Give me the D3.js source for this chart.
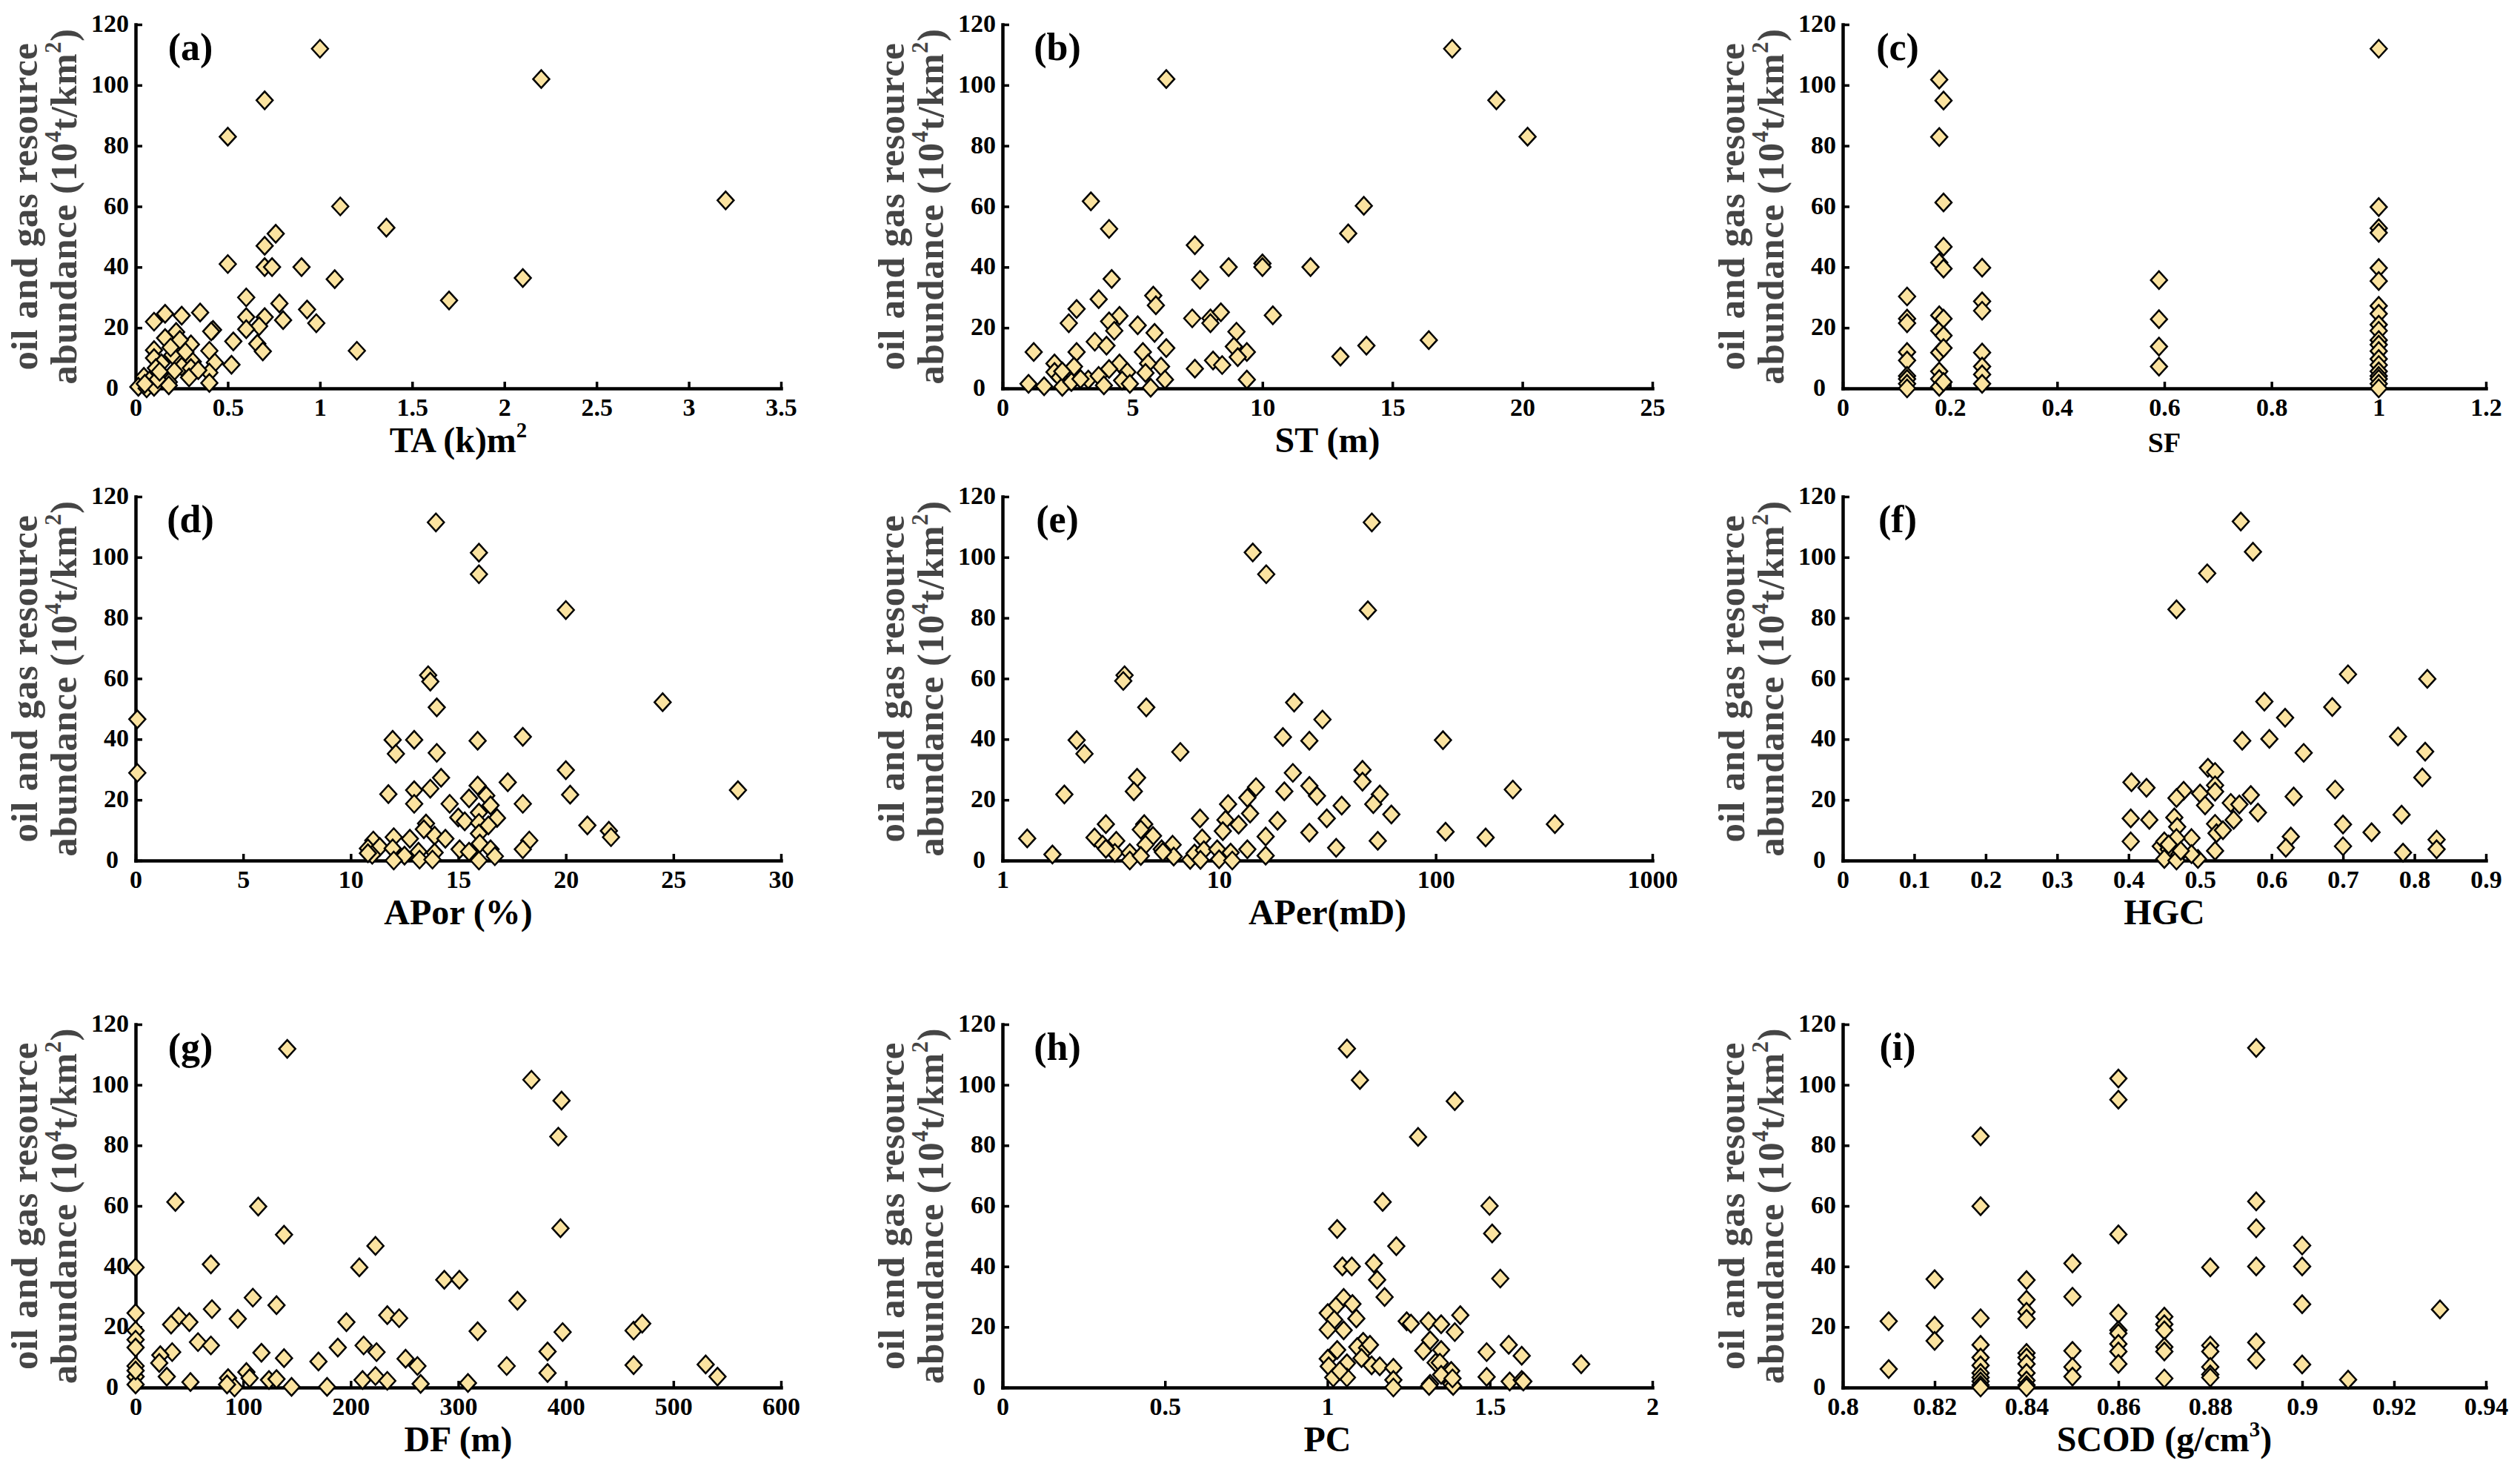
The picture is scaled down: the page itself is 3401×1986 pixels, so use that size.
<!DOCTYPE html>
<html>
<head>
<meta charset="utf-8">
<script src="https://cdn.jsdelivr.net/npm/d3@7"></script>
<style>
  body { margin: 0; background: #fff; }
  svg text { font-family: "Liberation Serif", "Times New Roman", serif; font-weight: bold; }
</style>
</head>
<body>
<svg id="chart" width="3401" height="1986"></svg>
<script>
// ---- data: [x, abundance] per panel ----
var yTicks = [0, 20, 40, 60, 80, 100, 120];

var ticksA = [0, 0.5, 1, 1.5, 2, 2.5, 3, 3.5];
var ticksB = [0, 5, 10, 15, 20, 25];
var ticksC = [0, 0.2, 0.4, 0.6, 0.8, 1, 1.2];
var ticksD = [0, 5, 10, 15, 20, 25, 30];
var ticksE = [1, 10, 100, 1000];
var ticksF = [0, 0.1, 0.2, 0.3, 0.4, 0.5, 0.6, 0.7, 0.8, 0.9];
var ticksG = [0, 100, 200, 300, 400, 500, 600];
var ticksH = [0, 0.5, 1, 1.5, 2];
var ticksI = [0.8, 0.82, 0.84, 0.86, 0.88, 0.9, 0.92, 0.94];

var panelA = [[1.0,112],[2.2,102],[0.7,95],[0.5,83],[3.2,62],[1.11,60],[1.36,53],[0.76,51],[0.7,47],[0.5,41],
  [0.7,40],[0.74,40],[0.9,40],[1.08,36],[2.1,36.4],[1.7,29],[0.6,30],[0.93,26],[0.78,28],[0.98,21.5],
  [0.8,22.5],[0.7,23.5],[0.6,23.5],[0.67,20.5],[0.6,19.5],[1.2,12.4],[0.66,14.7],[0.69,12.2],[0.53,15.5],[0.52,7.8],
  [0.35,25],[0.25,24],[0.16,24.6],[0.1,22],[0.42,19.3],[0.41,18.8],[0.22,18.6],[0.16,16.6],[0.3,14.5],[0.23,14],
  [0.1,12.6],[0.4,12.4],[0.1,10],[0.22,9.8],[0.14,8.3],[0.31,8.8],[0.43,8.5],[0.11,6.7],[0.25,7.2],[0.3,6.7],
  [0.15,4.1],[0.21,5.7],[0.4,5.2],[0.045,3.8],[0.29,3.6],[0.075,2.6],[0.18,2.1],[0.4,1.8],[0.015,0.5],[0.06,0],
  [0.1,0.5],[0.18,1],[0.05,1.5],[0.12,3],[0.2,11],[0.24,16],[0.27,12],[0.34,6],[0.19,13.5],[0.13,5.5]];

var panelB = [[17.3,112],[6.3,102],[19,95],[20.2,83],[3.4,61.7],[13.9,60.2],[4.1,52.6],[13.3,51.1],[7.4,47.2],[10,41.2],
  [10,40],[8.7,40],[11.85,40],[4.2,36.1],[7.6,35.8],[5.8,30.6],[5.9,27.4],[3.7,29.4],[2.85,26.2],[2.55,21.5],
  [4.5,23.9],[4.1,22.1],[4.3,19],[5.2,20.8],[7.3,23.1],[8,23.1],[8,21.5],[8.4,25.1],[10.4,24.1],[9,18.7],
  [5.85,18.3],[3.55,15.4],[4,14.1],[6.3,13.3],[8.9,13.8],[16.4,15.9],[14,14.1],[13,10.5],[1.2,12],[2.85,12],
  [5.4,12],[9.4,12],[9.05,10.3],[8.1,9.2],[8.45,7.7],[7.4,6.5],[2,8.2],[2.75,7.2],[4.5,8.2],[6.1,7.2],
  [5.6,8.2],[4.1,6.4],[2,5.4],[5.5,5.1],[4.8,5.4],[9.4,2.9],[6.25,2.9],[1,1.5],[1.6,0.7],[2.2,3.6],
  [2.3,0.5],[2.65,2.1],[3.3,2.9],[3.7,4.1],[3.9,1],[4.6,2.6],[4.9,1.5],[5.7,0.2],[3,3.1],[2.3,5.6]];

var panelC = [[0.12,30.3],[0.12,23],[0.12,21.5],[0.12,12],[0.12,9.2],[0.12,4.1],[0.12,3.1],[0.12,1.5],[0.12,0],
  [0.18,101.8],[0.18,82.9],[0.18,41.5],[0.18,24.1],[0.18,19],[0.18,11.8],[0.18,5.6],[0.18,3.1],[0.18,0.5],
  [0.188,94.9],[0.188,61.3],[0.188,46.7],[0.188,39.5],[0.188,23],[0.188,17.4],[0.188,13.3],[0.188,2.1],
  [0.26,39.8],[0.26,28.7],[0.26,25.6],[0.26,11.8],[0.26,7.2],[0.26,4.6],[0.26,1.5],
  [0.59,35.7],[0.59,22.8],[0.59,13.8],[0.59,7.2],
  [1,112],[1,59.8],[1,52.8],[1,51.3],[1,39.7],[1,35.4],[1,27.2],[1,24.6],[1,21],[1,19],
  [1,15.9],[1,14.4],[1,12.3],[1,9.7],[1,7.7],[1,5.6],[1,4.1],[1,3.1],[1,1.5],[1,0]];

var panelD = [[13.96,111.5],[15.96,101.5],[15.96,94.4],[20,82.6],[24.5,52.2],[13.6,61.1],[13.7,59],[14,50.5],[0.08,46.6],[0.08,28.9],
  [11.95,39.8],[12.1,35.2],[12.95,39.8],[14,35.5],[15.9,39.5],[18,40.8],[20,29.8],[20.2,21.7],[28,23.2],[17.3,25.8],
  [14.2,27.3],[13.7,23.7],[12.95,23.2],[12.95,18.7],[11.75,21.9],[15.9,24.7],[15.5,20.5],[16.3,21.4],[16.5,18.2],[14.6,18.7],
  [18,18.7],[15,14.2],[15.3,12.9],[15.96,15.8],[16.8,14],[15.96,12.4],[16.4,11.6],[15.96,8.9],[21,11.6],[22,9.8],
  [22.1,7.7],[13.5,12.2],[13.4,10.3],[13.9,8.2],[14.4,7.2],[12,7.7],[12.75,7.2],[11.05,6.6],[18.3,6.6],[18,3.7],
  [10.8,4],[11.35,4.5],[11.95,4],[11,1.9],[12.5,1.6],[12,0],[13.15,2.9],[13.2,0.3],[13.9,2.6],[13.8,0.3],
  [15.06,3.7],[15.5,2.9],[15.96,0],[16,5.6],[16.5,3.7],[16.7,1.4],[10.8,2.4]];

var panelE = [[50.7,111.5],[14.3,101.6],[16.5,94.4],[48.6,82.5],[3.66,61.1],[3.61,59.2],[4.61,50.5],[22.2,52.1],[30,46.5],[2.2,39.7],
  [2.39,35.2],[6.62,35.8],[19.7,40.7],[26.1,39.5],[108,39.7],[4.18,27.3],[4.04,22.8],[1.93,21.8],[45.9,29.9],[45.9,26],
  [21.9,28.9],[14.8,24.2],[13.5,20.7],[20,22.8],[26.1,24.6],[28.3,21.3],[55.2,21.8],[51.5,18.6],[227,23.4],[11,18.6],
  [36.8,18.1],[13.9,15.5],[10.7,13.4],[12.3,11.8],[8.16,13.9],[18.6,13.1],[31.4,13.9],[62.4,15.2],[355,12],[111,9.5],
  [170,7.6],[3,12],[4.51,12],[1.3,7.3],[2.66,7.6],[3.35,6.5],[2.9,5.2],[4.35,10.2],[4.95,8.1],[4.57,5.2],
  [10.4,9.7],[8.35,7.3],[16.4,7.9],[26.1,9.2],[54,6.5],[34.7,4.2],[13.5,3.7],[6.1,5.2],[5.43,3.7],[3.3,2.5],
  [3.87,2.5],[3.87,0],[4.35,1.5],[6.17,1.3],[7.35,0.2],[7.7,2.3],[8.5,3.4],[8.2,0.2],[9.8,3.7],[10,0.4],
  [11.3,2.6],[11.5,0],[16.4,1.6],[1.7,2],[3,3.9],[5.5,2.8]];

var panelF = [[0.557,111.8],[0.574,101.8],[0.51,94.7],[0.467,82.8],[0.707,61.4],[0.818,59.9],[0.59,52.4],[0.685,50.6],[0.619,47.1],[0.559,39.5],
  [0.597,40.1],[0.777,40.9],[0.645,35.5],[0.815,35.9],[0.811,27.4],[0.511,30.6],[0.521,29.2],[0.404,25.8],[0.425,24],[0.477,23],
  [0.521,24.8],[0.521,22.7],[0.5,22.1],[0.467,20.6],[0.571,21.6],[0.631,21.1],[0.689,23.4],[0.507,18.2],[0.543,19],[0.555,18.5],
  [0.581,15.8],[0.782,15.1],[0.403,13.9],[0.429,13.4],[0.464,14.2],[0.547,13.4],[0.521,12.1],[0.468,11.1],[0.7,11.9],[0.74,9.3],
  [0.523,9],[0.532,10],[0.403,6.3],[0.488,7.4],[0.467,7.4],[0.627,7.9],[0.7,4.7],[0.62,4.2],[0.831,6.9],[0.831,3.7],
  [0.784,2.6],[0.445,4.7],[0.45,6.3],[0.456,3.7],[0.521,3.2],[0.471,2.1],[0.45,0.5],[0.467,0],[0.497,0.5],[0.488,2.1],
  [0.456,5.3],[0.473,3.2]];

var panelG = [[141,111.9],[368,101.7],[396,94.8],[393,82.9],[37,61.3],[114,59.8],[138,50.5],[395,52.6],[223,46.8],[0,39.7],
  [70,40.7],[208,39.7],[287,35.6],[301,35.6],[109,29.7],[355,28.7],[131,27.2],[71,25.9],[0,24.6],[40,23.4],
  [33,20.8],[50,21.6],[95,22.7],[196,21.6],[234,23.9],[245,22.9],[0,18.8],[318,18.6],[397,18.3],[463,18.8],
  [471,21.1],[0,15.8],[58,15],[70,13.9],[0,13.2],[117,11.5],[188,13.2],[212,13.9],[224,11.7],[383,11.9],
  [34,11.7],[23,10.7],[138,9.7],[170,8.6],[251,9.5],[262,7.1],[22,8.1],[0,7.1],[345,7.1],[463,7.4],
  [530,7.6],[383,4.8],[541,3.6],[29,3.6],[0,3.6],[86,3.1],[103,5.1],[106,3.1],[124,2.5],[131,2.8],
  [51,1.8],[92,0],[145,0.2],[178,0.2],[211,2.5],[223,3.8],[234,2.2],[265,1.2],[309,1.5],[0,1],
  [85,1],[0,5.6]];

var panelH = [[1.06,112],[1.1,101.6],[1.392,94.6],[1.279,82.8],[1.17,61.3],[1.499,60],[1.03,52.4],[1.507,50.9],[1.212,46.7],[1.046,40],
  [1.075,40],[1.143,41],[1.153,35.6],[1.532,36],[1.176,29.9],[1.05,29.6],[1.026,26.8],[1.077,27.6],[1.001,24.6],[1.021,22.4],
  [1.089,22.8],[1.001,19.1],[1.05,18.9],[1.244,21.9],[1.257,21.1],[1.311,21.9],[1.35,20.9],[1.409,23.9],[1.392,18.3],[1.316,15.6],
  [1.558,14.1],[1.11,15.1],[1.092,13.4],[1.122,13.1],[1.131,14.1],[1.295,12.1],[1.35,12.4],[1.49,11.7],[1.03,12.4],[1.598,10.5],
  [1.001,9.5],[1.004,7],[1.105,9.7],[1.06,8],[1.136,7.3],[1.161,7],[1.203,6.5],[1.333,8.2],[1.346,8.2],[1.781,7.7],
  [1.381,5.5],[1.35,4.2],[1.49,3.5],[1.018,3.3],[1.06,3.3],[1.203,2.5],[1.561,2],[1.598,2.5],[1.603,2],[1.316,1.2],
  [1.381,1.2],[1.203,0],[1.313,0.5],[1.387,0.5],[1.038,5.5],[1.385,3]];

var panelI = [[0.81,21.9],[0.81,6.1],
  [0.82,35.8],[0.82,20.4],[0.82,15.4],
  [0.83,83],[0.83,59.9],[0.83,22.9],[0.83,14.1],[0.83,9.9],[0.83,7.3],[0.83,4.8],[0.83,3.3],[0.83,2],[0.83,0.8],[0.83,0],
  [0.84,35.5],[0.84,29],[0.84,25],[0.84,22.7],[0.84,11.4],[0.84,9.9],[0.84,7.8],[0.84,4.8],[0.84,2.3],[0.84,0.8],[0.84,0],
  [0.85,41],[0.85,30],[0.85,12.1],[0.85,6.8],[0.85,3.6],
  [0.86,102.1],[0.86,95.1],[0.86,50.6],[0.86,24.4],[0.86,18.9],[0.86,17.9],[0.86,14.4],[0.86,11.9],[0.86,7.8],
  [0.87,23.4],[0.87,20.9],[0.87,18.9],[0.87,13.4],[0.87,11.9],[0.87,3],
  [0.88,39.7],[0.88,13.9],[0.88,11.9],[0.88,6.8],[0.88,4.3],[0.88,3.3],
  [0.89,112.2],[0.89,61.5],[0.89,52.6],[0.89,40],[0.89,14.9],[0.89,9.2],
  [0.9,46.9],[0.9,40],[0.9,27.5],[0.9,7.6],
  [0.91,2.6],
  [0.93,25.8]];

// ---- layout ----
var cols = [[183, 1054], [1353, 2230], [2487, 3355]];
var rows = [[33, 524], [670, 1161], [1382, 1872]];
var FILL = "#fbe3a0";

var panels = [
  {tag: "(a)", data: panelA, ticks: ticksA, dom: [0, 3.5], title: [{t: "TA (k)m"}, {t: "2", sup: true}]},
  {tag: "(b)", data: panelB, ticks: ticksB, dom: [0, 25], title: [{t: "ST (m)"}]},
  {tag: "(c)", data: panelC, ticks: ticksC, dom: [0, 1.2], title: [{t: "SF"}], small: true},
  {tag: "(d)", data: panelD, ticks: ticksD, dom: [0, 30], title: [{t: "APor (%)"}]},
  {tag: "(e)", data: panelE, ticks: ticksE, dom: [1, 1000], log: true, title: [{t: "APer(mD)"}]},
  {tag: "(f)", data: panelF, ticks: ticksF, dom: [0, 0.9], title: [{t: "HGC"}]},
  {tag: "(g)", data: panelG, ticks: ticksG, dom: [0, 600], title: [{t: "DF (m)"}]},
  {tag: "(h)", data: panelH, ticks: ticksH, dom: [0, 2], title: [{t: "PC"}]},
  {tag: "(i)", data: panelI, ticks: ticksI, dom: [0.8, 0.94], title: [{t: "SCOD (g/cm"}, {t: "3", sup: true}, {t: ")"}]}
];

var svg = d3.select("#chart");
svg.append("rect").attr("width", 3401).attr("height", 1986).attr("fill", "#fff");

// append text pieces, superscripts as smaller raised tspans
function richText(sel, parts, size) {
  var shift = 0;
  parts.forEach(function (p) {
    var ts = sel.append("tspan").text(p.t);
    var dy = 0;
    if (p.sup) { ts.attr("font-size", size * 0.6); dy = -size * 0.42 - shift; shift = -size * 0.42; }
    else if (shift) { dy = -shift; shift = 0; }
    if (dy) ts.attr("dy", dy);
  });
}

var diamond = "M0,-12L11,0L0,12L-11,0Z";

panels.forEach(function (p, i) {
  var c = cols[i % 3], r = rows[Math.floor(i / 3)];
  var g = svg.append("g");

  var x = (p.log ? d3.scaleLog() : d3.scaleLinear()).domain(p.dom).range(c);
  var y = d3.scaleLinear().domain([0, 120]).range([r[1], r[0]]);

  var xAxis = g.append("g")
    .attr("transform", "translate(0," + r[1] + ")")
    .call(d3.axisBottom(x).tickValues(p.ticks).tickFormat(function (d) { return String(d); })
      .tickSizeInner(-9).tickSizeOuter(0).tickPadding(14));
  var yAxis = g.append("g")
    .attr("transform", "translate(" + c[0] + ",0)")
    .call(d3.axisLeft(y).tickValues(yTicks).tickFormat(function (d) { return String(d); })
      .tickSizeInner(-9).tickSizeOuter(0).tickPadding(9));

  [xAxis, yAxis].forEach(function (a) {
    a.select(".domain").attr("stroke", "#000").attr("stroke-width", 4.5).attr("stroke-linecap", "square");
    a.selectAll(".tick line").attr("stroke", "#000").attr("stroke-width", 3.5);
    a.selectAll(".tick text").attr("fill", "#000").attr("font-size", 34)
      .style("font-family", "'Liberation Serif', serif").style("font-weight", "bold");
  });
  xAxis.selectAll(".tick text").attr("dy", "0.68em");
  yAxis.selectAll(".tick text").attr("dy", "0.28em")
    .attr("dx", function (d) { return d === 0 ? -14 : 0; });   // the 0 label sits further out

  // y title, two centred lines
  var mid = (r[0] + r[1]) / 2;
  g.append("text")
    .attr("transform", "translate(" + (c[0] - 133) + "," + mid + ") rotate(-90)")
    .attr("text-anchor", "middle").attr("font-size", 51).attr("fill", "#454545")
    .attr("letter-spacing", 0.6)
    .text("oil and gas resource");
  var t2 = g.append("text")
    .attr("transform", "translate(" + (c[0] - 80) + "," + mid + ") rotate(-90)")
    .attr("text-anchor", "middle").attr("font-size", 51).attr("fill", "#454545")
    .attr("letter-spacing", 0.6);
  richText(t2, [{t: "abundance (10"}, {t: "4", sup: true}, {t: "t/km"}, {t: "2", sup: true}, {t: ")"}], 51);

  // x title
  var xt = g.append("text")
    .attr("x", (c[0] + c[1]) / 2).attr("y", r[1] + 86)
    .attr("text-anchor", "middle").attr("font-size", p.small ? 38 : 48).attr("fill", "#000");
  richText(xt, p.title, p.small ? 38 : 48);

  // panel tag
  g.append("text")
    .attr("x", c[0] + 74).attr("y", r[0] + 48)
    .attr("text-anchor", "middle").attr("font-size", 52).attr("fill", "#000")
    .text(p.tag);

  // points
  g.append("g").selectAll("path").data(p.data).enter().append("path")
    .attr("d", diamond)
    .attr("transform", function (d) { return "translate(" + x(d[0]) + "," + y(d[1]) + ")"; })
    .attr("fill", FILL).attr("stroke", "#000").attr("stroke-width", 2.5);
});
</script>
</body>
</html>
